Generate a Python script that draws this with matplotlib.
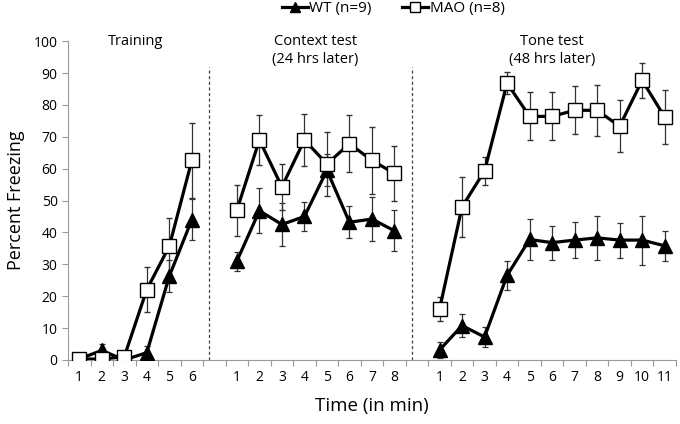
import numpy as np
import matplotlib.pyplot as plt

# section data (percent freezing, mean and SEM)
sections = ['Training', 'Context test\n(24 hrs later)', 'Tone test\n(48 hrs later)']
n_min = [6, 8, 11]

wt_train = [0.3, 3.0, 0.0, 2.3, 26.3, 44.0]
wt_train_err = [1.5, 2.0, 0.5, 2.0, 5.0, 6.5]
mao_train = [0.3, 0.3, 1.0, 22.1, 35.7, 62.6]
mao_train_err = [0.5, 0.5, 0.5, 7.2, 8.7, 11.7]

wt_ctx = [31.0, 46.8, 42.5, 45.0, 59.5, 43.2, 44.2, 40.5]
wt_ctx_err = [3.0, 7.0, 6.6, 4.7, 5.0, 5.0, 7.0, 6.4]
mao_ctx = [47.0, 69.0, 54.3, 69.0, 61.5, 67.8, 62.6, 58.5]
mao_ctx_err = [8.0, 7.8, 7.3, 8.2, 10.0, 9.0, 10.5, 8.6]

wt_tone = [3.1, 10.8, 7.2, 26.5, 37.8, 36.8, 37.6, 38.3, 37.6, 37.6, 35.8]
wt_tone_err = [2.4, 3.5, 3.1, 4.5, 6.3, 5.3, 5.7, 6.8, 5.5, 7.7, 4.8]
mao_tone = [15.9, 48.0, 59.3, 86.8, 76.4, 76.4, 78.3, 78.3, 73.3, 87.7, 76.2]
mao_tone_err = [3.8, 9.5, 4.3, 3.5, 7.5, 7.5, 7.5, 8.0, 8.2, 5.5, 8.6]

wt = [wt_train, wt_ctx, wt_tone]
wt_err = [wt_train_err, wt_ctx_err, wt_tone_err]
mao = [mao_train, mao_ctx, mao_tone]
mao_err = [mao_train_err, mao_ctx_err, mao_tone_err]

plt.rcParams['font.family'] = ['Open Sans', 'DejaVu Sans']
fig = plt.figure(figsize=(6.8, 4.24), dpi=100)
ax = fig.add_axes([0.1, 0.151, 0.894, 0.752])

# category positions, one blank slot between sections
starts = [0, 7, 16]
label_pos, label_txt = [], []
for k in range(3):
    x = np.arange(n_min[k]) + starts[k]
    label_pos += list(x)
    label_txt += [str(i + 1) for i in range(n_min[k])]
    l1 = ax.errorbar(x, wt[k], yerr=wt_err[k], color='black', lw=2.3,
                     marker='^', ms=9.5, mfc='black', mec='black',
                     ecolor='#333333', elinewidth=0.9, capsize=2.5, capthick=0.9,
                     zorder=3)
    l2 = ax.errorbar(x, mao[k], yerr=mao_err[k], color='black', lw=2.3,
                     marker='s', ms=9.5, mfc='white', mec='black', mew=1.0,
                     ecolor='#333333', elinewidth=0.9, capsize=2.5, capthick=0.9,
                     zorder=3)
    cx = x.mean()
    if k == 0:
        ax.text(cx, 100, sections[k], ha='center', va='center', fontsize=10.5)
    else:
        ax.text(cx, 102.2, sections[k], ha='center', va='top',
                fontsize=10.5, linespacing=1.3)

# section dividers
for xd in [5.77, 14.77]:
    ax.plot([xd, xd], [0, 92], color='#444444', lw=0.9, ls=(0, (2.5, 2)))

ax.set_xlim(-0.5, 26.5)
ax.set_ylim(0, 100)
ax.set_yticks(range(0, 101, 10))
ax.set_xticks(np.arange(-0.5, 27, 1))
ax.set_xticklabels([])
ax.set_xticks(label_pos, minor=True)
ax.set_xticklabels(label_txt, minor=True)
ax.tick_params(axis='x', which='major', length=4, color='#999999', direction='out')
ax.tick_params(axis='x', which='minor', length=0, pad=7, labelsize=10)
ax.tick_params(axis='y', length=4, color='#999999', labelsize=10)
for s in ['top', 'right']:
    ax.spines[s].set_visible(False)
for s in ['left', 'bottom']:
    ax.spines[s].set_color('#999999')

ax.set_ylabel('Percent Freezing', fontsize=13, labelpad=6)
ax.set_xlabel('Time (in min)', fontsize=13.5, labelpad=9)

fig.legend(handles=[l1[0], l2[0]], labels=['WT (n=9)', 'MAO (n=8)'], loc='upper center',
           bbox_to_anchor=(0.578, 1.03), ncol=2, frameon=False, fontsize=11,
           handlelength=1.7, handletextpad=0.1, columnspacing=2.0, markerscale=0.8)

fig.savefig('out.png', dpi=100)
